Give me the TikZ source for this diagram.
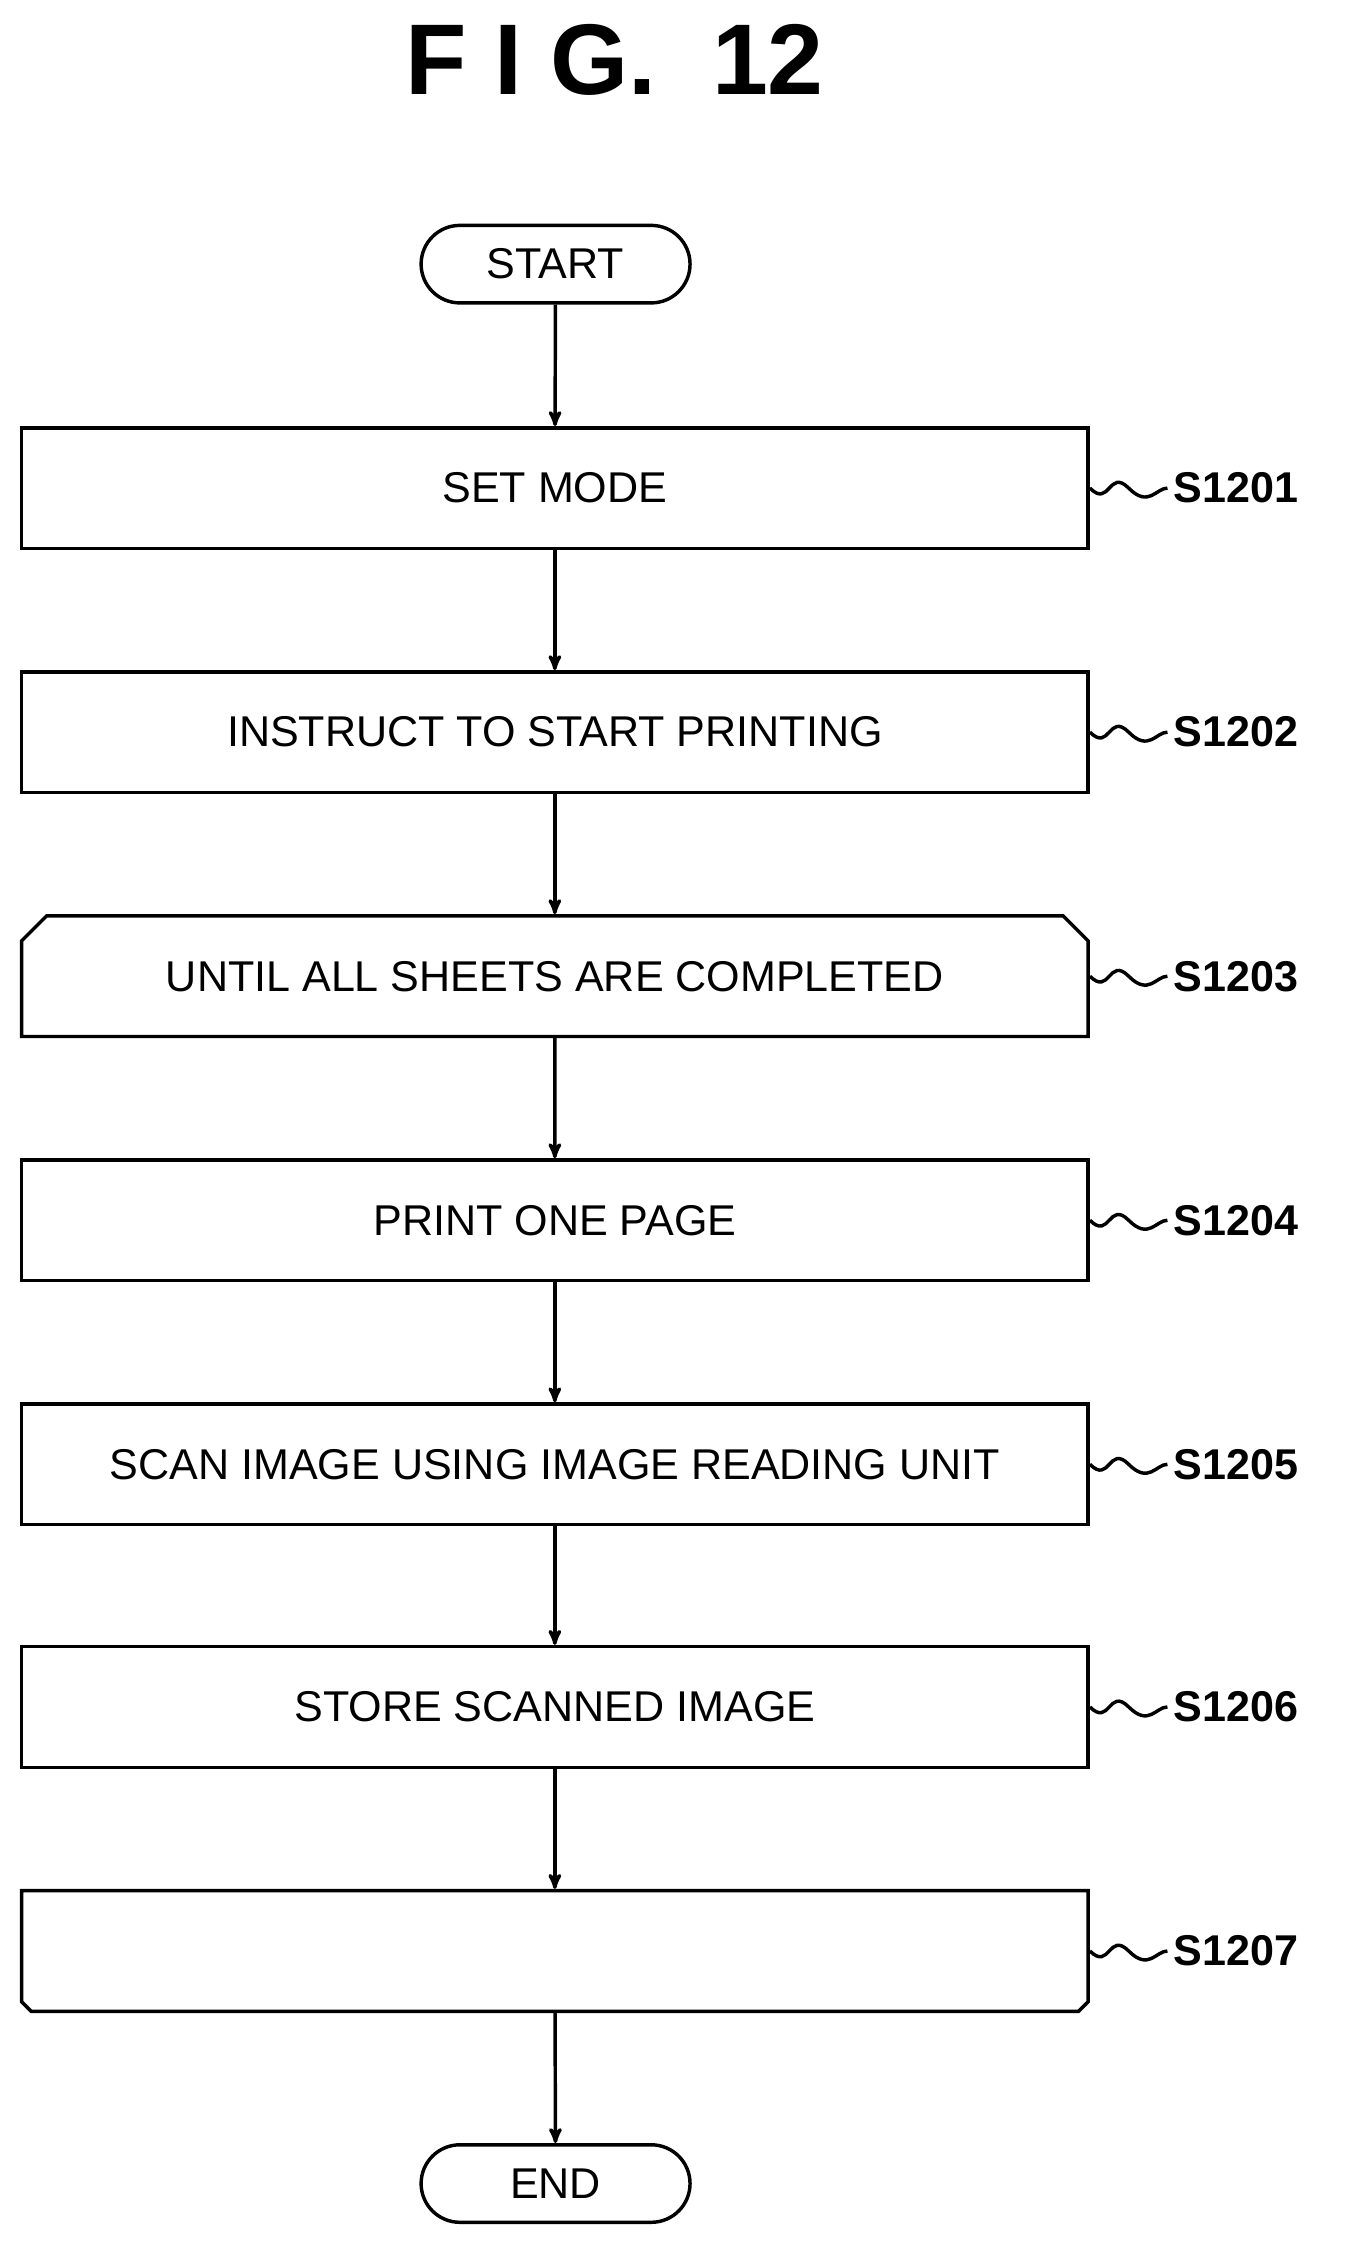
\documentclass[tikz,border=0pt]{standalone}
\usepackage{fontspec}
\setmainfont{Liberation Sans}
\usetikzlibrary{arrows,calc,positioning,shapes.misc}
\tikzset{
flow/.style={>=stealth',x=1pt,y=-1pt,line width=2.4pt},
stepbox/.style={rectangle,draw,minimum width=743pt,minimum height=84pt,
    font=\fontsize{30}{33}\selectfont},
loopbox/.style={stepbox,chamfered rectangle,chamfered rectangle xsep=26pt,
    chamfered rectangle angle=45,chamfered rectangle corners={#1}},
term/.style={rounded rectangle,draw,minimum width=194pt,minimum height=54pt,
    font=\fontsize{30}{33}\selectfont},
steplabel/.style={font=\bfseries\fontsize{30}{32}\selectfont,anchor=west},
}
\newcommand{\steptag}[2]{%
  \draw (#1.east) .. controls +(14pt,-14pt) and +(-14pt,14pt) .. ++(27pt,0pt)
        .. controls +(14pt,-14pt) and +(-8pt,0pt) .. ++(27pt,0pt)
        node[steplabel] {#2};}
\begin{document}
\begin{tikzpicture}[flow]
\useasboundingbox (0,0) rectangle (938,1568);
\node[font=\bfseries\fontsize{70}{72}\selectfont] (title) at (428,42) {F I G.\ \ 12};

\node[term] (start) at (387,184) {START};
\node[stepbox] (s1) at (386.5,340) {SET MODE};
\node[stepbox] (s2) at (386.5,510) {INSTRUCT TO START PRINTING};
\node[loopbox={north west,north east}] (s3) at (386.5,680) {UNTIL ALL SHEETS ARE COMPLETED};
\node[stepbox] (s4) at (386.5,850) {PRINT ONE PAGE};
\node[stepbox] (s5) at (386.5,1020) {SCAN IMAGE USING IMAGE READING UNIT};
\node[stepbox] (s6) at (386.5,1189) {STORE SCANNED IMAGE};
\node[loopbox={south west,south east}] (s7) at (386.5,1359) {};
\node[term] (end) at (387,1521) {END};

\steptag{s1}{S1201}
\steptag{s2}{S1202}
\steptag{s3}{S1203}
\steptag{s4}{S1204}
\steptag{s5}{S1205}
\steptag{s6}{S1206}
\steptag{s7}{S1207}

\foreach \a/\b in {start/s1,s1/s2,s2/s3,s3/s4,s4/s5,s5/s6,s6/s7,s7/end}
    \draw[->] (\a) -- (\b);
\end{tikzpicture}
\end{document}
